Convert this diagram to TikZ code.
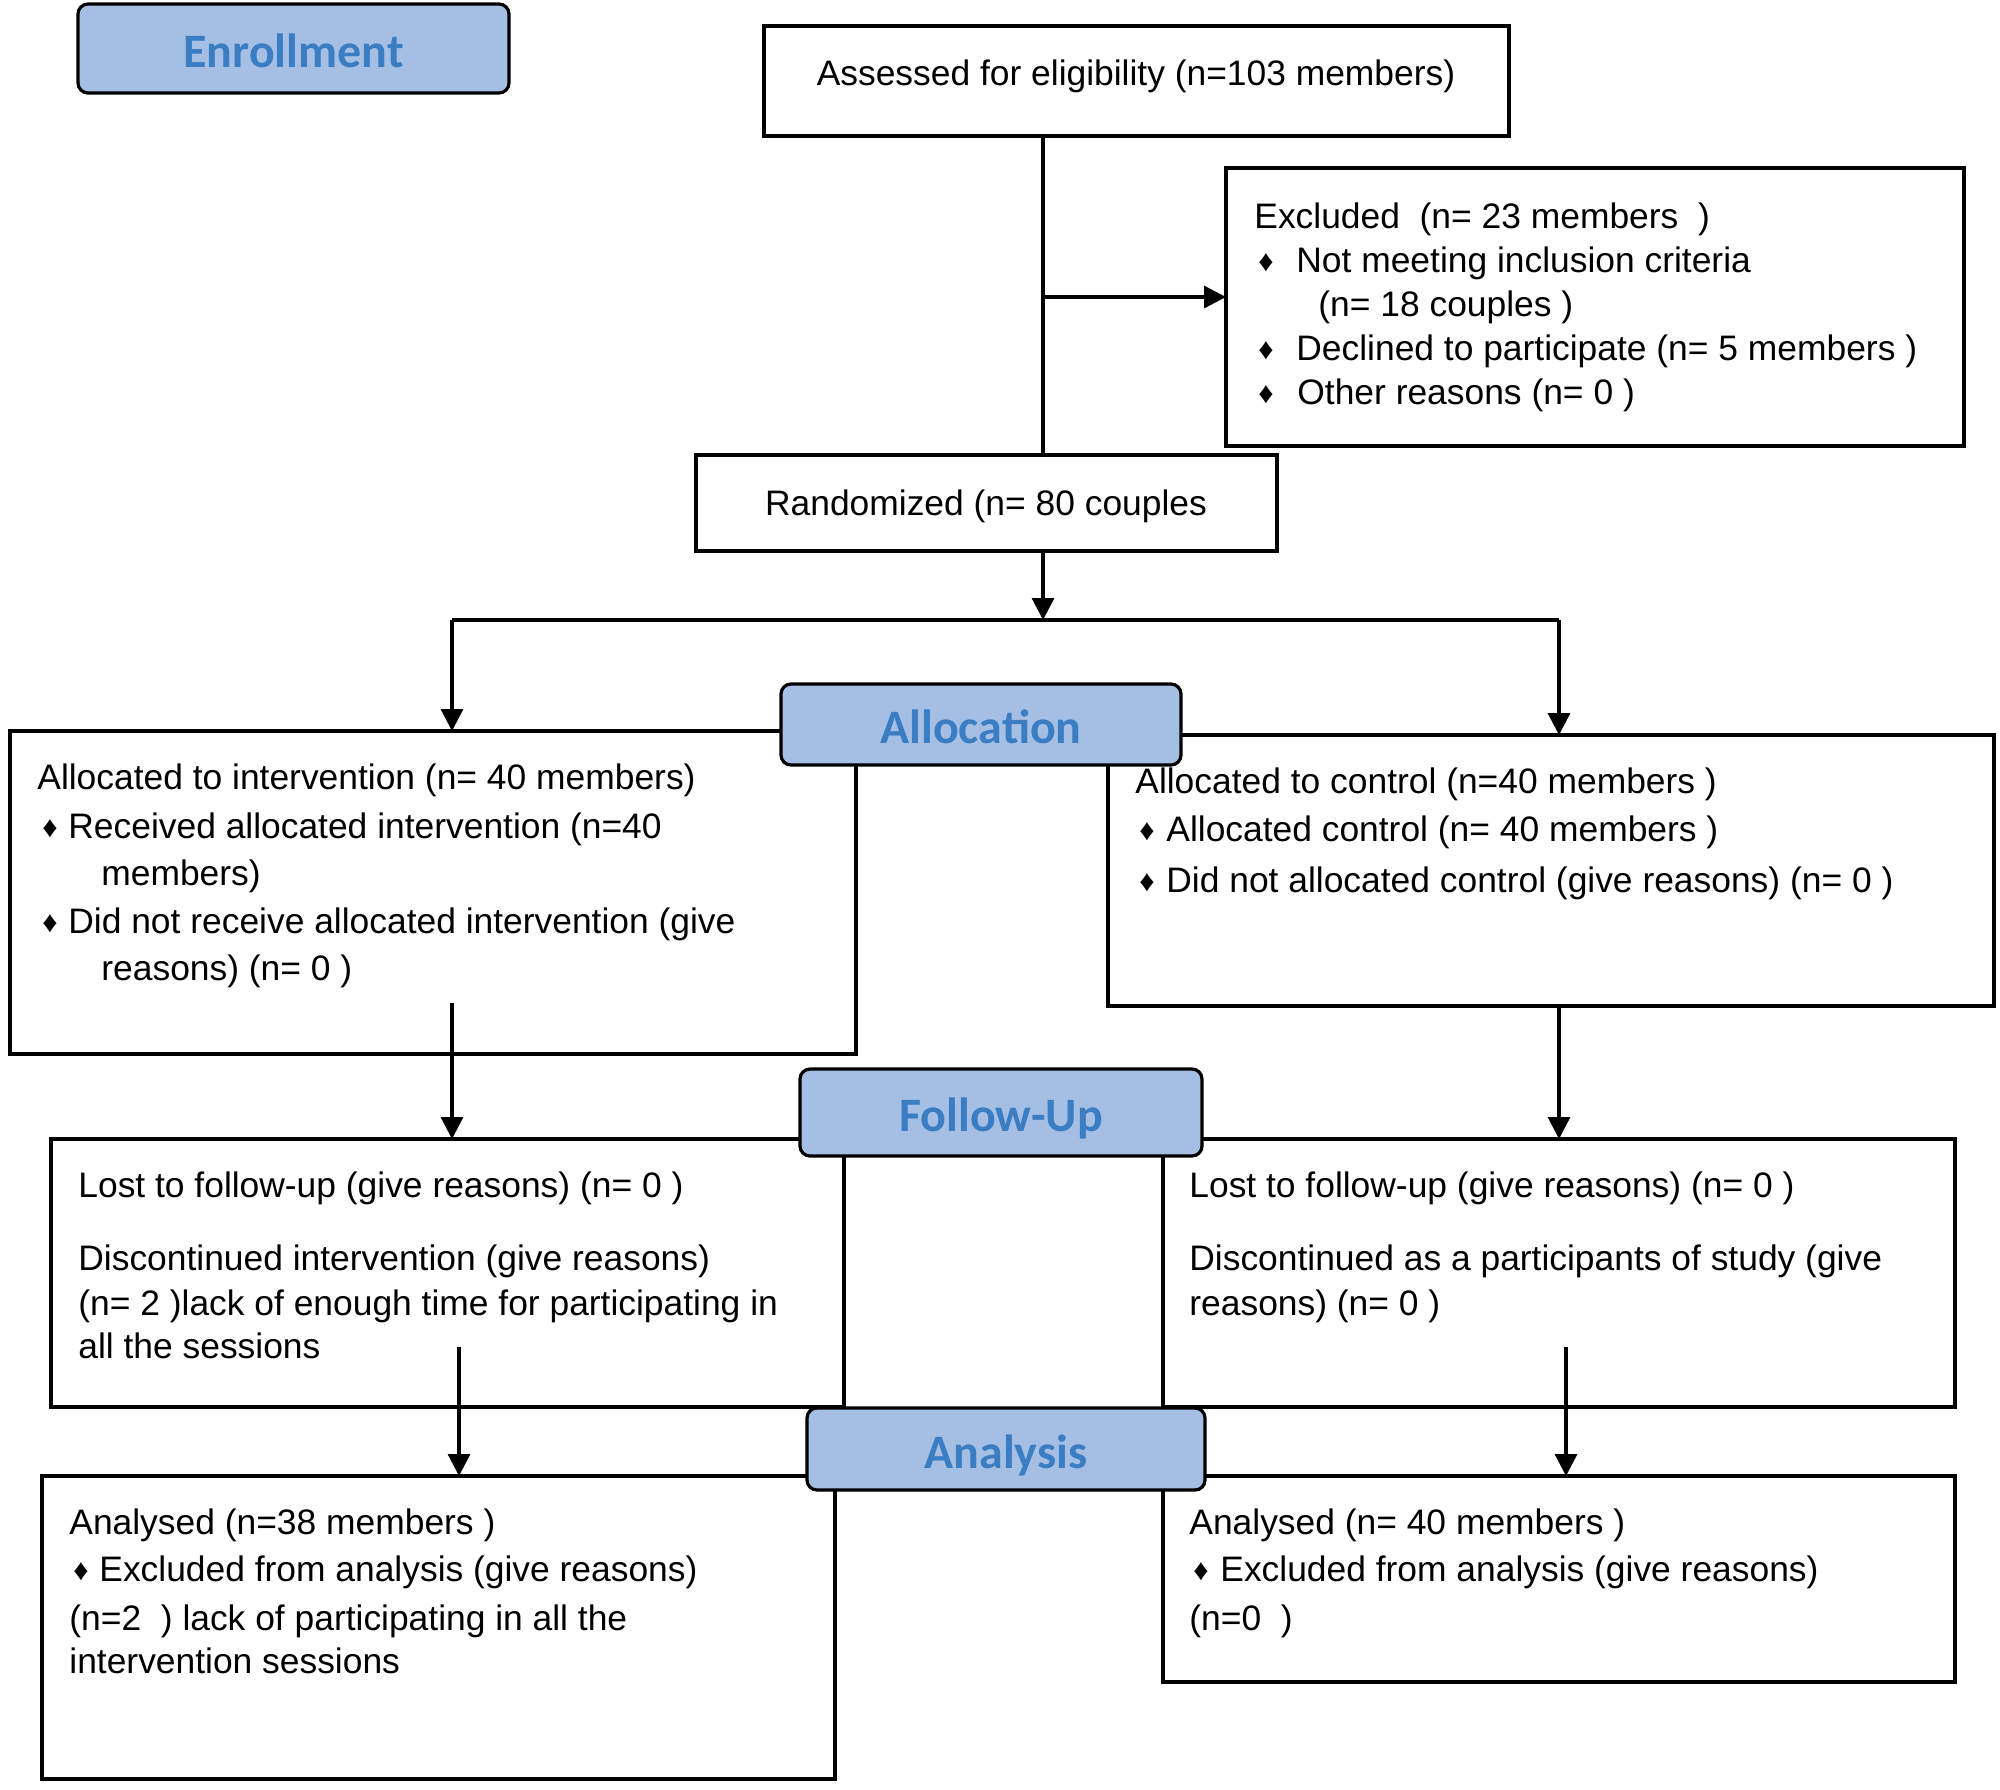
\documentclass[tikz,border=0pt]{standalone}
\usepackage{fontspec}
\setmainfont{Liberation Sans}
\newfontfamily\hdrfam{Carlito}
\usetikzlibrary{arrows.meta}
\definecolor{hdrfill}{RGB}{165,191,228}
\definecolor{hdrtext}{RGB}{58,125,195}
\newcommand\bodyfont{\fontsize{17.7pt}{21pt}\selectfont}
\newcommand\hdrfont{\hdrfam\bfseries\fontsize{24pt}{28pt}\selectfont}
\newcommand\bul[1]{\makebox[#1][l]{\raisebox{0.5pt}{\fontsize{15pt}{15pt}\selectfont ♦}}}
\tikzset{
  box/.style={draw, line width=1.6pt, inner sep=0pt, outer sep=0pt, anchor=north west},
  hdr/.style={draw, line width=1.6pt, fill=hdrfill, rounded corners=5pt, anchor=north west,
    inner sep=0pt, outer sep=0pt, text=hdrtext, font=\hdrfont, text height=19pt, text depth=0pt},
  txt/.style={anchor=base west, inner sep=0pt, font=\bodyfont},
  ctxt/.style={anchor=base, inner sep=0pt, font=\bodyfont},
  ln/.style={line width=1.6pt},
  arr/.style={line width=1.6pt, -{Triangle[length=11pt,width=11pt]}}
}
\begin{document}
\begin{tikzpicture}[x=0.5pt,y=-0.5pt]
\useasboundingbox (0,0) rectangle (2000,1789);
% boxes
\node[box, minimum width=372.5pt, minimum height=55pt] (assess) at (764,26) {};
\node[box, minimum width=369pt, minimum height=139pt] (excl) at (1226,168) {};
\node[box, minimum width=290.5pt, minimum height=48pt] (rand) at (696,455) {};
\node[box, minimum width=423pt, minimum height=161.5pt] (interv) at (10,731) {};
\node[box, minimum width=443pt, minimum height=135.5pt] (ctrl) at (1108,735) {};
\node[box, minimum width=396.5pt, minimum height=134pt] (fuL) at (51,1139) {};
\node[box, minimum width=396pt, minimum height=134pt] (fuR) at (1163,1139) {};
\node[box, minimum width=396.5pt, minimum height=151.5pt] (anL) at (42,1476) {};
\node[box, minimum width=396pt, minimum height=103pt] (anR) at (1163,1476) {};
% connectors
\coordinate (trunk) at (1043,297);
\coordinate (split) at (1043,620);
\coordinate (splitL) at (452,620);
\coordinate (splitR) at (1559,620);
\coordinate (ivout) at (452,1003);
\coordinate (fuLout) at (459,1347);
\coordinate (fuRout) at (1566,1347);
\draw[ln] (assess.south -| trunk) -- (rand.north -| trunk);
\draw[arr] (trunk) -- (trunk -| excl.west);
\draw[arr] (rand.south -| split) -- (split);
\draw[ln] (splitL) -- (splitR);
\draw[arr] (splitL) -- (splitL |- interv.north);
\draw[arr] (splitR) -- (splitR |- ctrl.north);
\draw[arr] (ivout) -- (ivout |- fuL.north);
\draw[arr] (ctrl.south -| splitR) -- (splitR |- fuR.north);
\draw[arr] (fuLout) -- (fuLout |- anL.north);
\draw[arr] (fuRout) -- (fuRout |- anR.north);
% headers
\node[hdr, minimum width=215.5pt, minimum height=44.5pt] (henr) at (78,4) {Enrollment};
\node[hdr, minimum width=200pt, minimum height=40.5pt] (halloc) at (781,684) {Allocation};
\node[hdr, minimum width=201pt, minimum height=43.5pt] (hfu) at (800,1069) {Follow-Up};
\node[hdr, minimum width=199pt, minimum height=41pt] (han) at (807,1408) {Analysis};
% texts
\node[ctxt] (t-assess) at (1136,85) {Assessed for eligibility (n=103 members)};
\node[txt] (t-ex1) at (1254,228) {Excluded\ \ (n= 23 members\ \ )};
\node[txt] (t-ex2) at (1258,272) {\bul{19pt}Not meeting inclusion criteria};
\node[txt] (t-ex3) at (1318,316) {(n= 18 couples )};
\node[txt] (t-ex4) at (1258,360) {\bul{19pt}Declined to participate (n= 5 members )};
\node[txt] (t-ex5) at (1258,404) {\bul{19.5pt}Other reasons (n= 0 )};
\node[ctxt] (t-rand) at (986,515) {Randomized (n= 80 couples};
\node[txt] (t-iv1) at (37,789) {Allocated to intervention (n= 40 members)};
\node[txt] (t-iv2) at (42,838) {\bul{13pt}Received allocated intervention (n=40};
\node[txt] (t-iv3) at (101,885) {members)};
\node[txt] (t-iv4) at (42,933) {\bul{13pt}Did not receive allocated intervention (give};
\node[txt] (t-iv5) at (101,980) {reasons) (n= 0 )};
\node[txt] (t-ct1) at (1135,793) {Allocated to control (n=40 members )};
\node[txt] (t-ct2) at (1139,841) {\bul{13.5pt}Allocated control (n= 40 members )};
\node[txt] (t-ct3) at (1139,892) {\bul{13.5pt}Did not allocated control (give reasons) (n= 0 )};
\node[txt] (t-fl1) at (78,1197) {Lost to follow-up (give reasons) (n= 0 )};
\node[txt] (t-fl2) at (78,1270) {Discontinued intervention (give reasons)};
\node[txt] (t-fl3) at (78,1315) {(n= 2 )lack of enough time for participating in};
\node[txt] (t-fl4) at (78,1358) {all the sessions};
\node[txt] (t-fr1) at (1189,1197) {Lost to follow-up (give reasons) (n= 0 )};
\node[txt] (t-fr2) at (1189,1270) {Discontinued as a participants of study (give};
\node[txt] (t-fr3) at (1189,1315) {reasons) (n= 0 )};
\node[txt] (t-al1) at (69,1534) {Analysed (n=38 members )};
\node[txt] (t-al2) at (73,1581) {\bul{13pt}Excluded from analysis (give reasons)};
\node[txt] (t-al3) at (69,1630) {(n=2\ \ ) lack of participating in all the};
\node[txt] (t-al4) at (69,1673) {intervention sessions};
\node[txt] (t-ar1) at (1189,1534) {Analysed (n= 40 members )};
\node[txt] (t-ar2) at (1193,1581) {\bul{13.5pt}Excluded from analysis (give reasons)};
\node[txt] (t-ar3) at (1189,1630) {(n=0\ \ )};
\end{tikzpicture}
\end{document}
